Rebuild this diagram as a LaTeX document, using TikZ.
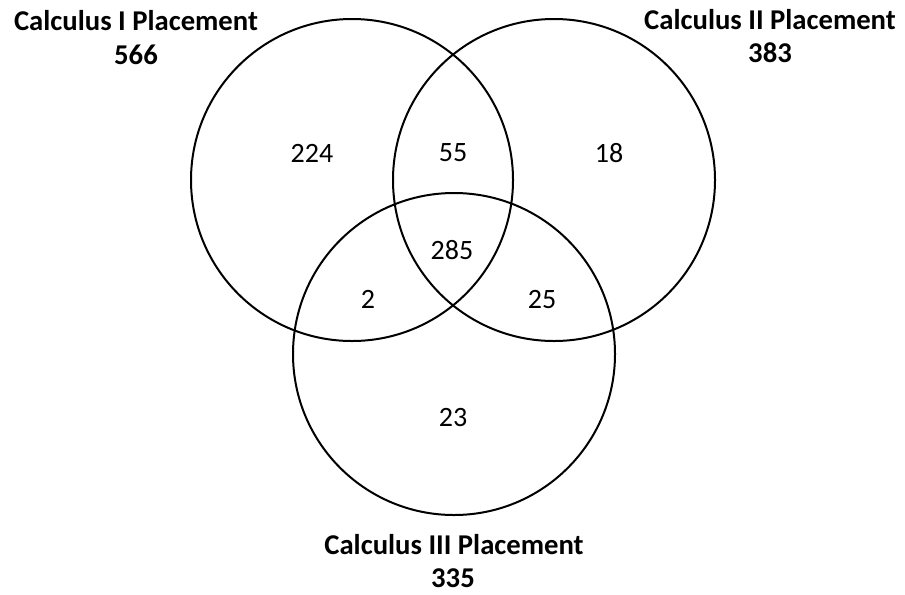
\documentclass[tikz,border=0pt]{standalone}
\usepackage{fontspec}
\setmainfont{Carlito}
\begin{document}
\begin{tikzpicture}[x=0.75pt, y=-0.75pt,
    set/.style={draw, circle, line width=1.5pt, minimum size=241.5pt, inner sep=0pt},
    title/.style={font=\fontsize{21.5}{27}\selectfont\bfseries, align=center, inner sep=0pt},
    count/.style={font=\fontsize{21}{25}\selectfont, inner sep=0pt}]
    \useasboundingbox (0,0) rectangle (905,594);

    % die drei Mengen
    \node[set] (calcI) at (352, 180) {};
    \node[set] (calcII) at (554, 180) {};
    \node[set] (calcIII) at (454, 354) {};

    % Ueberschriften
    \node[title] (tI) at (136, 21) {Calculus I Placement};
    \node[title] (nI) at (136, 55) {566};
    \node[title] (tII) at (770, 20) {Calculus II Placement};
    \node[title] (nII) at (770, 53) {383};
    \node[title] (tIII) at (454, 545) {Calculus III Placement};
    \node[title] (nIII) at (453, 578) {335};

    % Anzahlen
    \node[count] (onlyI) at (312, 153) {224};
    \node[count] (IandII) at (453, 153) {55};
    \node[count] (onlyII) at (609, 153) {18};
    \node[count] (all) at (452, 250) {285};
    \node[count] (IandIII) at (368, 299) {2};
    \node[count] (IIandIII) at (542, 299) {25};
    \node[count] (onlyIII) at (453, 417) {23};
\end{tikzpicture}
\end{document}
